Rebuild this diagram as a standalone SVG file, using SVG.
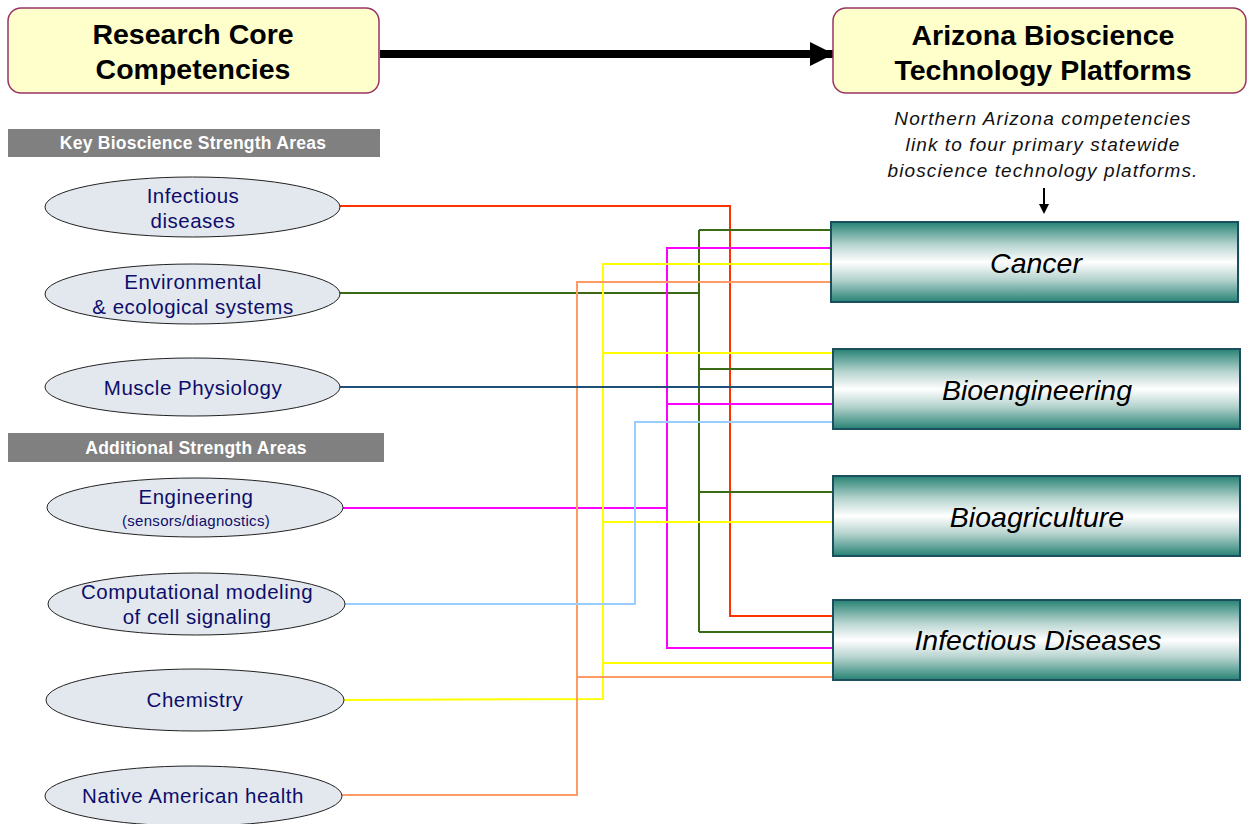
<svg xmlns="http://www.w3.org/2000/svg" width="1248" height="824" viewBox="0 0 1248 824">
<defs>
<linearGradient id="teal" x1="0" y1="0" x2="0" y2="1">
<stop offset="0" stop-color="#268274"/>
<stop offset="0.28" stop-color="#b5d3ce"/>
<stop offset="0.5" stop-color="#ffffff"/>
<stop offset="0.72" stop-color="#b5d3ce"/>
<stop offset="1" stop-color="#268274"/>
</linearGradient>
<marker id="bigHead" markerUnits="userSpaceOnUse" markerWidth="24" markerHeight="24" refX="24" refY="12" orient="auto">
<path d="M0,0 L24,12 L0,24 Z" fill="#000"/>
</marker>
</defs>
<style>
.head{fill:#FFFFCC;stroke:#993366;stroke-width:1.5}
.headT{font-family:"Liberation Sans",Arial,sans-serif;font-weight:bold;font-size:28.5px;fill:#000;text-anchor:middle}
.bar{fill:#808080}
.barT{font-family:"Liberation Sans",Arial,sans-serif;font-weight:bold;font-size:17.5px;letter-spacing:0.25px;fill:#fff;text-anchor:middle}
.ell{fill:#E3E8EE;stroke:#222;stroke-width:1}
.ellT{font-family:"Liberation Sans",Arial,sans-serif;font-size:20.5px;letter-spacing:0.5px;fill:#0D0D6B;text-anchor:middle}
.small{font-size:15px;letter-spacing:0.3px}
.plat{fill:url(#teal);stroke:#1B4F5E;stroke-width:2}
.platT{font-family:"Liberation Sans",Arial,sans-serif;font-style:italic;font-size:28.5px;fill:#000;text-anchor:middle}
.note{font-family:"Liberation Sans",Arial,sans-serif;font-style:italic;font-size:19px;letter-spacing:1.1px;fill:#111;text-anchor:middle}
.c{fill:none;stroke-width:2}
.red{stroke:#FF3300}
.grn{stroke:#3A6B14}
.mag{stroke:#FF00FF}
.yel{stroke:#FFFF00}
.sal{stroke:#FF9966}
.blu{stroke:#1F4E79}
.lbl{stroke:#99CCFF}
</style>

<g id="connectors">
<line x1="380" y1="54" x2="834" y2="54" stroke="#000" stroke-width="8" marker-end="url(#bigHead)"/>
<line x1="1044" y1="188" x2="1044" y2="206" stroke="#000" stroke-width="2"/>
<path d="M1039,204 L1049,204 L1044,214 Z" fill="#000"/>
<polyline class="c red" points="340,206 730,206 730,616 833,616"/>
<polyline class="c grn" points="340,293 699,293"/>
<polyline class="c grn" points="699,230 699,632"/>
<polyline class="c grn" points="699,230 831,230"/>
<polyline class="c grn" points="699,369 833,369"/>
<polyline class="c grn" points="699,492 833,492"/>
<polyline class="c grn" points="699,632 833,632"/>
<polyline class="c mag" points="831,248 667,248 667,648 833,648"/>
<polyline class="c mag" points="667,404 833,404"/>
<polyline class="c mag" points="341,508 667,508"/>
<polyline class="c yel" points="831,264 603,264 603,699 343,700"/>
<polyline class="c yel" points="603,353 833,353"/>
<polyline class="c yel" points="603,522 833,522"/>
<polyline class="c yel" points="603,663 833,663"/>
<polyline class="c sal" points="831,282 577,282 577,795 342,795"/>
<polyline class="c sal" points="577,677 833,677"/>
<polyline class="c blu" points="340,387 833,387"/>
<polyline class="c lbl" points="345,604 635,604 635,422 833,422"/>
</g>

<g id="research-core">
<rect class="head" x="8" y="8" width="371" height="85" rx="13"/>
<text class="headT" x="193" y="44">Research Core</text>
<text class="headT" x="193" y="79">Competencies</text>
</g>
<g id="arizona-platforms">
<rect class="head" x="833" y="8" width="413" height="85" rx="13"/>
<text class="headT" x="1043" y="45">Arizona Bioscience</text>
<text class="headT" x="1043" y="80">Technology Platforms</text>
</g>
<g id="note">
<text class="note" x="1043" y="125">Northern Arizona competencies</text>
<text class="note" x="1043" y="151">link to four primary statewide</text>
<text class="note" x="1043" y="177">bioscience technology platforms.</text>
</g>

<g id="key-bar">
<rect class="bar" x="8" y="129" width="372" height="28"/>
<text class="barT" x="193" y="149">Key Bioscience Strength Areas</text>
</g>
<g id="additional-bar">
<rect class="bar" x="8" y="433" width="376" height="29"/>
<text class="barT" x="196" y="454">Additional Strength Areas</text>
</g>

<g id="infectious">
<ellipse class="ell" cx="192.5" cy="207" rx="147.5" ry="30"/>
<text class="ellT" x="193" y="203">Infectious</text>
<text class="ellT" x="193" y="228">diseases</text>
</g>
<g id="environmental">
<ellipse class="ell" cx="192.5" cy="294" rx="147.5" ry="30"/>
<text class="ellT" x="193" y="289">Environmental</text>
<text class="ellT" x="193" y="314">&amp; ecological systems</text>
</g>
<g id="muscle">
<ellipse class="ell" cx="192.5" cy="387" rx="147.5" ry="29"/>
<text class="ellT" x="193" y="395">Muscle Physiology</text>
</g>
<g id="engineering">
<ellipse class="ell" cx="195" cy="507.5" rx="148" ry="29.5"/>
<text class="ellT" x="196" y="504">Engineering</text>
<text class="ellT small" x="196" y="526">(sensors/diagnostics)</text>
</g>
<g id="computational">
<ellipse class="ell" cx="196.5" cy="604" rx="148.5" ry="31"/>
<text class="ellT" x="197" y="599">Computational modeling</text>
<text class="ellT" x="197" y="624">of cell signaling</text>
</g>
<g id="chemistry">
<ellipse class="ell" cx="195" cy="700" rx="149" ry="31"/>
<text class="ellT" x="195" y="707">Chemistry</text>
</g>
<g id="native">
<ellipse class="ell" cx="193.5" cy="796" rx="148.5" ry="30"/>
<text class="ellT" x="193" y="803">Native American health</text>
</g>

<g id="cancer">
<rect class="plat" x="831" y="222" width="407" height="80"/>
<text class="platT" x="1036" y="273">Cancer</text>
</g>
<g id="bioengineering">
<rect class="plat" x="833" y="349" width="407" height="80"/>
<text class="platT" x="1037" y="400">Bioengineering</text>
</g>
<g id="bioagriculture">
<rect class="plat" x="833" y="476" width="407" height="80"/>
<text class="platT" x="1037" y="527">Bioagriculture</text>
</g>
<g id="infectious-diseases">
<rect class="plat" x="833" y="600" width="407" height="80"/>
<text class="platT" x="1038" y="650">Infectious Diseases</text>
</g>
</svg>
